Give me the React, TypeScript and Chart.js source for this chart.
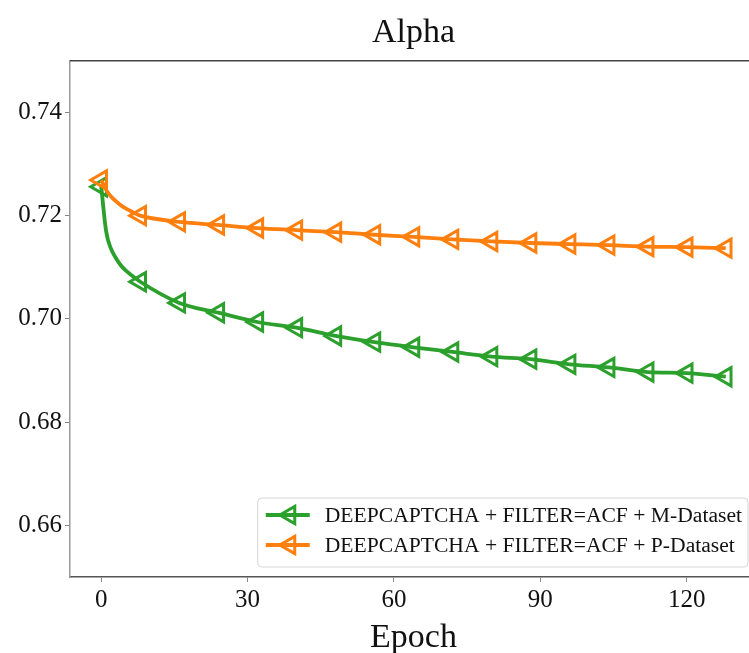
import React, { useEffect, useRef } from 'react';
import { Chart, registerables } from 'chart.js';

Chart.register(...registerables);

const epochs = [0, 1, 2, 3, 4, 5, 6, 7, 8, 16, 24, 32, 40, 48, 56, 64, 72, 80, 88, 96, 104, 112, 120, 128];
const mDataset = [0.7256, 0.7170, 0.7136, 0.7118, 0.7104, 0.7094, 0.7086, 0.7079, 0.7072, 0.7031, 0.7012, 0.6994, 0.6983, 0.6967, 0.6955, 0.6945, 0.6936, 0.6927, 0.6922, 0.6912, 0.6906, 0.6897, 0.6895, 0.6888];
const pDataset = [0.7269, 0.7250, 0.7237, 0.7228, 0.7220, 0.7214, 0.7209, 0.7204, 0.7200, 0.7188, 0.7182, 0.7176, 0.7172, 0.7168, 0.7163, 0.7159, 0.7154, 0.7150, 0.7147, 0.7145, 0.7143, 0.7140, 0.7139, 0.7137];
const seriesLabels = ['DEEPCAPTCHA + FILTER=ACF + M-Dataset', 'DEEPCAPTCHA + FILTER=ACF + P-Dataset'];
const seriesColors = ['#2ca02c', '#ff7f0e'];
const xTicks = [0, 30, 60, 90, 120];
const yTicks = [0.66, 0.68, 0.7, 0.72, 0.74];
const markerEvery = 8;
const titleText = 'Alpha';
const xTitle = 'Epoch';

const FONT = '"Liberation Serif", "DejaVu Serif", serif';

function drawTriangleLeft(ctx: CanvasRenderingContext2D, x: number, y: number, r: number) {
  let rad = (270 * Math.PI) / 180;
  ctx.beginPath();
  ctx.moveTo(x + Math.sin(rad) * r, y - Math.cos(rad) * r);
  rad += (2 * Math.PI) / 3;
  ctx.lineTo(x + Math.sin(rad) * r, y - Math.cos(rad) * r);
  rad += (2 * Math.PI) / 3;
  ctx.lineTo(x + Math.sin(rad) * r, y - Math.cos(rad) * r);
  ctx.closePath();
  ctx.stroke();
}

const framePlugin = {
  id: 'frameAndLegend',
  afterLayout(chart: any) {
    // centre the title over the plotting area, as in the reference
    const t = chart.titleBlock;
    const a = chart.chartArea;
    if (t && a) {
      t.left = a.left;
      t.right = a.right;
      t.width = a.right - a.left;
    }
  },
  afterDraw(chart: any) {
    const ctx: CanvasRenderingContext2D = chart.ctx;
    const a = chart.chartArea;
    ctx.save();
    // top spine
    ctx.strokeStyle = '#444';
    ctx.lineWidth = 1.5;
    ctx.beginPath();
    ctx.moveTo(a.left, a.top);
    ctx.lineTo(a.right, a.top);
    ctx.stroke();

    // legend
    ctx.font = `21.6px ${FONT}`;
    const tw = Math.max(...seriesLabels.map((l) => ctx.measureText(l).width));
    const padL = 8, handle = 44, gap = 15, padR = 6;
    const w = padL + handle + gap + tw + padR;
    const h = 69;
    const right = a.right - 9;
    const bottom = a.bottom - 10;
    const left = right - w;
    const top = bottom - h;
    ctx.beginPath();
    const rr = 4;
    ctx.moveTo(left + rr, top);
    ctx.lineTo(right - rr, top);
    ctx.arcTo(right, top, right, top + rr, rr);
    ctx.lineTo(right, bottom - rr);
    ctx.arcTo(right, bottom, right - rr, bottom, rr);
    ctx.lineTo(left + rr, bottom);
    ctx.arcTo(left, bottom, left, bottom - rr, rr);
    ctx.lineTo(left, top + rr);
    ctx.arcTo(left, top, left + rr, top, rr);
    ctx.closePath();
    ctx.fillStyle = 'rgba(255,255,255,0.85)';
    ctx.fill();
    ctx.strokeStyle = '#d6d6d6';
    ctx.lineWidth = 1;
    ctx.stroke();

    seriesLabels.forEach((label, i) => {
      const y = top + 17 + i * 30;
      ctx.strokeStyle = seriesColors[i];
      ctx.lineWidth = 3.8;
      ctx.beginPath();
      ctx.moveTo(left + padL, y);
      ctx.lineTo(left + padL + handle, y);
      ctx.stroke();
      ctx.lineWidth = 3;
      drawTriangleLeft(ctx, left + padL + handle / 2 + 2, y, 10);
      ctx.fillStyle = '#111';
      ctx.textBaseline = 'middle';
      ctx.textAlign = 'left';
      ctx.fillText(label, left + padL + handle + gap, y + 1);
    });
    ctx.restore();
  },
};

export default function App() {
  const ref = useRef<HTMLCanvasElement>(null);
  useEffect(() => {
    if (!ref.current) return;
    const series = [mDataset, pDataset];
    const datasets = series.map((vals, i) => ({
      label: seriesLabels[i],
      data: epochs.map((e, j) => ({ x: e, y: vals[j] })),
      borderColor: seriesColors[i],
      backgroundColor: 'rgba(0,0,0,0)',
      borderWidth: 3.8,
      pointStyle: 'triangle',
      pointRotation: 270,
      pointRadius: (c: any) => (epochs[c.dataIndex] % markerEvery === 0 ? 10.5 : 0),
      pointHoverRadius: (c: any) => (epochs[c.dataIndex] % markerEvery === 0 ? 10.5 : 0),
      pointBorderWidth: 3,
      pointBorderColor: seriesColors[i],
      pointBackgroundColor: 'rgba(0,0,0,0)',
      cubicInterpolationMode: 'monotone',
      order: i === 0 ? 1 : 0,
      clip: false,
    }));
    const tickFont = { family: FONT, size: 25 };
    const chart = new Chart(ref.current, {
      type: 'line',
      data: { datasets: datasets as any },
      options: {
        animation: false,
        responsive: false,
        devicePixelRatio: 1,
        layout: { padding: { left: 0, right: 70, top: 0, bottom: 0 } },
        plugins: {
          legend: { display: false },
          tooltip: { enabled: false },
          title: {
            display: true,
            text: titleText,
            color: '#111',
            font: { family: FONT, size: 34, weight: 'normal' },
            padding: { top: 13, bottom: 7 },
          },
        },
        scales: {
          x: {
            type: 'linear',
            min: -6.4,
            max: 134.4,
            afterBuildTicks: (s: any) => {
              s.ticks = xTicks.map((v) => ({ value: v }));
            },
            afterFit: (s: any) => {
              s.height = 76;
            },
            ticks: {
              color: '#111',
              font: tickFont,
              padding: 3,
              maxRotation: 0,
              autoSkip: false,
              callback: (v: any) => String(v),
            },
            grid: {
              display: true,
              drawOnChartArea: false,
              drawTicks: true,
              tickLength: 5,
              tickColor: '#888',
            },
            border: { display: true, color: '#555', width: 1.5 },
            title: {
              display: true,
              text: xTitle,
              color: '#111',
              font: { family: FONT, size: 34, lineHeight: 1.0 },
              padding: { top: 0, bottom: -2 },
            },
          },
          y: {
            type: 'linear',
            min: 0.65,
            max: 0.75,
            afterBuildTicks: (s: any) => {
              s.ticks = yTicks.map((v) => ({ value: v }));
            },
            afterFit: (s: any) => {
              s.width = 70;
            },
            ticks: {
              color: '#111',
              font: tickFont,
              padding: 3,
              autoSkip: false,
              callback: (v: any) => Number(v).toFixed(2),
            },
            grid: {
              display: true,
              drawOnChartArea: false,
              drawTicks: true,
              tickLength: 5,
              tickColor: '#888',
            },
            border: { display: true, color: '#999', width: 1.5 },
          },
        },
      },
      plugins: [framePlugin],
    });
    return () => chart.destroy();
  }, []);

  return (
    <div style={{ position: 'fixed', left: 0, top: 0, width: 749, height: 653, overflow: 'hidden', background: '#fff' }}>
      <canvas ref={ref} width={827} height={653} style={{ display: 'block', width: 827, height: 653 }} />
    </div>
  );
}
